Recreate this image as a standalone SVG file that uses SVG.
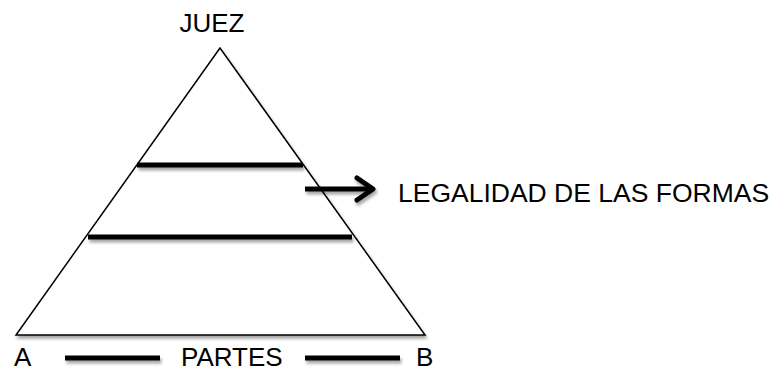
<svg xmlns="http://www.w3.org/2000/svg" width="773" height="371" viewBox="0 0 773 371">
<defs>
<style>
.lbl{font-family:"Liberation Sans",Arial,sans-serif;font-size:26px;fill:#000}
.bar{stroke:#000;stroke-width:5;fill:none}
.tri{stroke:#000;stroke-width:1.5;fill:#fff}
</style>
<filter id="sh" x="-20%" y="-100%" width="140%" height="400%">
<feDropShadow dx="1.5" dy="3" stdDeviation="1.5" flood-color="#000" flood-opacity="0.35"/>
</filter>
</defs>
<g id="piramide" filter="url(#sh)">
<polygon class="tri" points="220,48 16,335 425,335"/>
</g>
<g id="niveles" filter="url(#sh)">
<line class="bar" x1="137" y1="165" x2="303" y2="165"/>
<line class="bar" x1="88" y1="237" x2="352" y2="237"/>
</g>
<g id="juez"><text class="lbl" x="212" y="32" text-anchor="middle">JUEZ</text></g>
<g id="legalidad"><text class="lbl" x="398" y="202" style="font-size:26.5px">LEGALIDAD DE LAS FORMAS</text></g>
<g id="partes">
<text class="lbl" x="14" y="366">A</text>
<text class="lbl" x="181" y="366">PARTES</text>
<text class="lbl" x="416" y="366">B</text>
</g>
<g id="conectores" filter="url(#sh)">
<line class="bar" x1="305" y1="189" x2="373" y2="189"/>
<polyline class="bar" points="357,178 373,189 357,200" stroke-linecap="round" stroke-linejoin="round"/>
<line class="bar" x1="65" y1="358" x2="160" y2="358"/>
<line class="bar" x1="305" y1="358" x2="400" y2="358"/>
</g>
</svg>
